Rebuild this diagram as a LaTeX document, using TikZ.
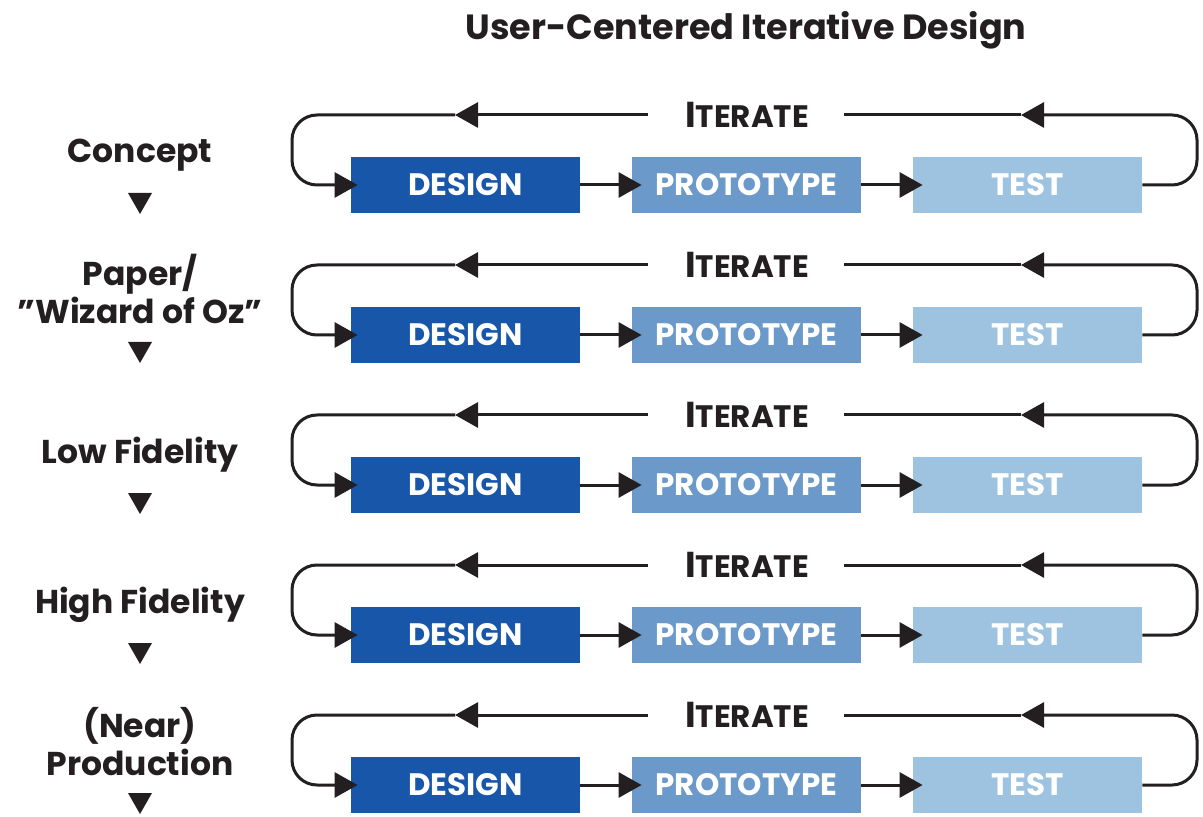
\documentclass[tikz,border=0pt]{standalone}
\usepackage{fontspec}
\setmainfont{Poppins}
\usetikzlibrary{arrows.meta}
\definecolor{cDesign}{HTML}{1756A9}
\definecolor{cProto}{HTML}{6B99CA}
\definecolor{cTest}{HTML}{9DC3E1}
\definecolor{ink}{HTML}{231F20}

\begin{document}
\begin{tikzpicture}[x=0.5pt,y=-0.5pt,
  stage/.style={minimum width=114.5pt, minimum height=28pt, inner sep=0pt,
    text=white, font=\bfseries\fontsize{15.5}{15.5}\selectfont},
  conn/.style={draw=ink, line width=1.5pt},
  tip/.style={-{Triangle[length=11.5pt,width=12.5pt]}},
  phase/.style={font=\bfseries\fontsize{16.5}{19}\selectfont, text=ink, align=center, inner sep=0pt},
  iter/.style={font=\bfseries\fontsize{15.5}{15.5}\selectfont, text=ink, inner sep=0pt}]

% canvas
\useasboundingbox (0,0) rectangle (1203,817);

% heading
\node[font=\bfseries\fontsize{17.5}{17.5}\selectfont, text=ink] (title) at (746,30)
  {User-Centered Iterative Design};

% five iteration rows
\foreach \i/\y in {1/185,2/335,3/485,4/635,5/785}{
  \pgfmathsetmacro\t{\y-70}
  \node[stage, fill=cDesign] (d\i) at (465.5,\y) {DESIGN};
  \node[stage, fill=cProto]  (p\i) at (746.5,\y) {PROTOTYPE};
  \node[stage, fill=cTest]   (t\i) at (1027.5,\y) {TEST};
  \node[iter] (it\i) at (747,\t) {{\fontsize{18}{18}\selectfont I}TERATE};
  \coordinate (il\i) at (648,\t);
  \coordinate (la\i) at (455,\t);
  \coordinate (lc\i) at (292,\y);
  \coordinate (ir\i) at (844,\t);
  \coordinate (ra\i) at (1021,\t);
  \coordinate (rc\i) at (1197,\t);
  % forward flow
  \draw[conn,tip] (d\i.east) -- ([xshift=5pt]p\i.west);
  \draw[conn,tip] (p\i.east) -- ([xshift=5pt]t\i.west);
  % feedback loop
  \draw[conn,rounded corners=12.5pt,tip] (t\i.east) -| (rc\i) -- (ra\i);
  \draw[conn] (ra\i) -- (ir\i);
  \draw[conn,tip] (il\i) -- (la\i);
  \draw[conn,rounded corners=12.5pt,tip] (la\i) -| (lc\i) -- ([xshift=3.5pt]d\i.west);
}

% fidelity stages
\node[phase] (s1) at (140,155) {Concept};
\node[phase, font=\bfseries\fontsize{16.5}{15.5}\selectfont] (s2) at (140,289) {Paper/\\”Wizard of Oz”};
\node[phase] (s3) at (140,455) {Low Fidelity};
\node[phase] (s4) at (140,605) {High Fidelity};
\node[phase] (s5) at (140,742) {(Near)\\Production};

\foreach \i/\y in {1/203,2/352,3/503,4/653,5/803}{
  \coordinate (m\i) at (140,\y);
  \fill[ink] (m\i) ++(-12,-10) -- ++(24,0) -- ++(-12,21) -- cycle;
}
\end{tikzpicture}
\end{document}
